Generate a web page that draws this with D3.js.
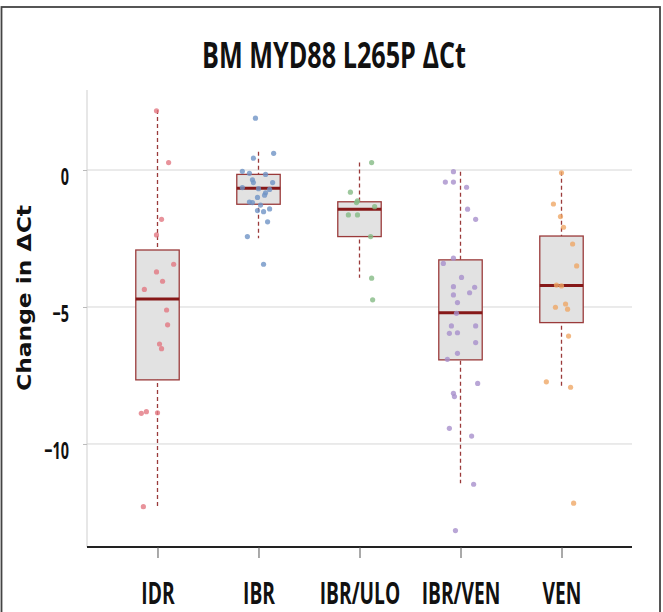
<!DOCTYPE html>
<html>
<head>
<meta charset="utf-8">
<script src="https://cdn.jsdelivr.net/npm/d3@7"></script>
<style>
  body { margin: 0; background: #fff; }
  svg { display: block; }
</style>
</head>
<body>
<div id="chart"></div>
<script>
// groups and their colours
const groups = ["IDR", "IBR", "IBR/ULO", "IBR/VEN", "VEN"];
const pointColors = ["#e27882", "#6f94c6", "#84ba84", "#a890cc", "#efa866"];

// box stats: [whiskerLow, q1, median, q3, whiskerHigh]
const boxStats = [
  [-12.3, -7.66, -4.71, -2.92, 2.19],
  [-2.49, -1.25, -0.67, -0.16, 0.67],
  [-3.93, -2.43, -1.43, -1.16, 0.27],
  [-11.43, -6.93, -5.21, -3.28, -0.06],
  [-7.97, -5.57, -4.22, -2.41, -0.06]
];

// individual points (change in dCt) and their horizontal jitter (fraction of a category step)
const idrVals = [2.16, 0.27, -1.80, -2.37, -3.44, -3.72, -4.06, -4.36, -5.11, -5.65, -6.35, -6.52, -8.88, -8.82, -8.86, -12.29];
const idrJit = [-0.01, 0.11, 0.04, -0.01, 0.16, -0.01, 0.05, -0.13, 0.09, 0.10, 0.02, 0.04, -0.16, -0.11, 0.00, -0.14];

const ibrVals = [1.89, 0.61, 0.43, -0.05, -0.12, -0.16, -0.36, -0.46, -0.46, -0.64, -0.68, -0.71, -0.83, -0.92, -1.00, -1.17, -1.19, -1.28, -1.48, -1.52, -1.42, -1.89, -2.43, -3.44];
const ibrJit = [-0.03, 0.15, -0.05, -0.16, -0.09, 0.07, -0.06, -0.05, 0.14, -0.16, 0, 0.11, 0.07, 0.06, -0.01, -0.09, -0.06, 0.02, -0.01, 0.05, 0.11, 0.09, -0.11, 0.05];

const uloVals = [0.27, -0.81, -1.19, -1.13, -1.34, -1.64, -1.64, -2.43, -3.95, -4.74];
const uloJit = [0.12, -0.09, -0.03, -0.02, 0.15, -0.11, -0.02, 0.11, 0.12, 0.13];

const ibrVenVals = [-0.06, -0.44, -0.44, -0.63, -1.43, -1.80, -3.22, -3.41, -3.92, -4.26, -4.28, -4.56, -4.48, -4.84, -5.23, -5.69, -5.96, -5.94, -5.69, -6.30, -6.69, -6.91, -7.79, -8.15, -8.27, -9.43, -9.71, -11.47, -13.16];
const ibrVenJit = [-0.07, -0.15, -0.07, 0.06, 0.07, 0.15, -0.07, -0.17, 0.01, -0.07, 0.14, -0.07, 0.09, -0.03, -0.04, -0.09, -0.11, -0.03, 0.15, 0.15, -0.03, -0.13, 0.17, -0.07, -0.06, -0.11, 0.11, 0.13, -0.05];

const venVals = [-0.10, -1.24, -1.70, -2.09, -2.70, -3.50, -4.20, -4.23, -5.01, -4.89, -5.08, -6.06, -7.73, -7.93, -12.16];
const venJit = [0, -0.08, -0.01, 0.02, 0.11, 0.15, -0.05, 0, -0.06, 0.04, 0.06, 0.07, -0.15, 0.09, 0.12];

const groupVals = [idrVals, ibrVals, uloVals, ibrVenVals, venVals];
const groupJit = [idrJit, ibrJit, uloJit, ibrVenJit, venJit];
const yTicks = [0, -5, -10];

drawChart();

function drawChart() {
  const width = 663;
  const height = 612;
  const left = 87, right = 632, top = 90, bottom = 547;

  const svg = d3.select("#chart").append("svg")
    .attr("width", width)
    .attr("height", height);

  // outer frame
  svg.append("rect")
    .attr("x", 1.5).attr("y", 7)
    .attr("width", 658.5).attr("height", 620)
    .attr("fill", "none")
    .attr("stroke", "#444")
    .attr("stroke-width", 1.8);

  const x = d3.scalePoint().domain(groups).range([left, right]).padding(0.698);
  const y = d3.scaleLinear().domain([-13.76, 2.92]).range([bottom, top]);
  const step = x.step();

  // grid lines
  svg.append("g")
    .selectAll("line")
    .data(yTicks)
    .join("line")
    .attr("x1", left).attr("x2", right)
    .attr("y1", (d) => y(d)).attr("y2", (d) => y(d))
    .attr("stroke", "#d6d6d6")
    .attr("stroke-width", 1);

  // left edge of panel
  svg.append("line")
    .attr("x1", left).attr("x2", left)
    .attr("y1", top).attr("y2", bottom)
    .attr("stroke", "#cfcfcf");

  // y axis
  const yAxis = d3.axisLeft(y).tickValues(yTicks).tickSize(4).tickPadding(14);
  const yG = svg.append("g").attr("transform", `translate(${left},0)`).call(yAxis);
  yG.select(".domain").remove();
  yG.selectAll(".tick line").attr("stroke", "#bbb");
  yG.selectAll(".tick text")
    .attr("dy", "0.62em")
    .style("font-family", "'Open Sans', sans-serif")
    .style("font-weight", "bold")
    .style("font-size", "24px")
    .attr("fill", "#111");
  squeeze(yG.selectAll(".tick text"), 0.6);

  // boxes
  const boxW = 0.43 * step;
  const boxes = svg.append("g")
    .selectAll("g")
    .data(boxStats)
    .join("g")
    .attr("transform", (d, i) => `translate(${x(groups[i])},0)`);

  boxes.append("line")
    .attr("x1", 0).attr("x2", 0)
    .attr("y1", (d) => y(d[4])).attr("y2", (d) => y(d[0]))
    .attr("stroke", "#9a3a3a")
    .attr("stroke-width", 1.3)
    .attr("stroke-dasharray", "4,3");

  boxes.append("rect")
    .attr("x", -boxW / 2)
    .attr("y", (d) => y(d[3]))
    .attr("width", boxW)
    .attr("height", (d) => y(d[1]) - y(d[3]))
    .attr("fill", "#e2e2e2")
    .attr("stroke", "#9a3a3a")
    .attr("stroke-width", 1.3);

  boxes.append("line")
    .attr("x1", -boxW / 2).attr("x2", boxW / 2)
    .attr("y1", (d) => y(d[2])).attr("y2", (d) => y(d[2]))
    .attr("stroke", "#861818")
    .attr("stroke-width", 3);

  // points
  groups.forEach((g, i) => {
    svg.append("g")
      .selectAll("circle")
      .data(groupVals[i])
      .join("circle")
      .attr("cx", (d, j) => x(g) + groupJit[i][j] * step)
      .attr("cy", (d) => y(d))
      .attr("r", 2.6)
      .attr("fill", pointColors[i])
      .attr("opacity", 0.8);
  });

  // x axis
  const xAxis = d3.axisBottom(x).tickSize(11).tickPadding(25);
  const xG = svg.append("g").attr("transform", `translate(0,${bottom})`).call(xAxis);
  xG.select(".domain")
    .attr("d", `M${left},0H${right}`)
    .attr("stroke", "#222")
    .attr("stroke-width", 2);
  xG.selectAll(".tick line").attr("stroke", "#555");
  xG.selectAll(".tick text")
    .attr("dy", "0.71em")
    .style("font-family", "'Open Sans', sans-serif")
    .style("font-weight", "bold")
    .style("font-size", "30px")
    .attr("fill", "#111");
  squeeze(xG.selectAll(".tick text"), 0.64);

  // title
  svg.append("text")
    .attr("x", 334)
    .attr("y", 68)
    .attr("text-anchor", "middle")
    .style("font-family", "'Open Sans', sans-serif")
    .style("font-weight", "bold")
    .style("font-size", "36px")
    .attr("fill", "#111")
    .attr("textLength", 264)
    .attr("lengthAdjust", "spacingAndGlyphs")
    .text("BM MYD88 L265P ΔCt");

  // y label
  svg.append("text")
    .attr("transform", `translate(31,298) rotate(-90)`)
    .attr("text-anchor", "middle")
    .style("font-family", "'DejaVu Sans', sans-serif")
    .style("font-weight", "bold")
    .style("font-size", "20px")
    .attr("fill", "#111")
    .attr("textLength", 186)
    .attr("lengthAdjust", "spacingAndGlyphs")
    .text("Change in ΔCt");
}

function squeeze(sel, factor) {
  sel.each(function () {
    const w = this.getComputedTextLength();
    d3.select(this)
      .attr("textLength", w * factor)
      .attr("lengthAdjust", "spacingAndGlyphs");
  });
}
</script>
</body>
</html>
